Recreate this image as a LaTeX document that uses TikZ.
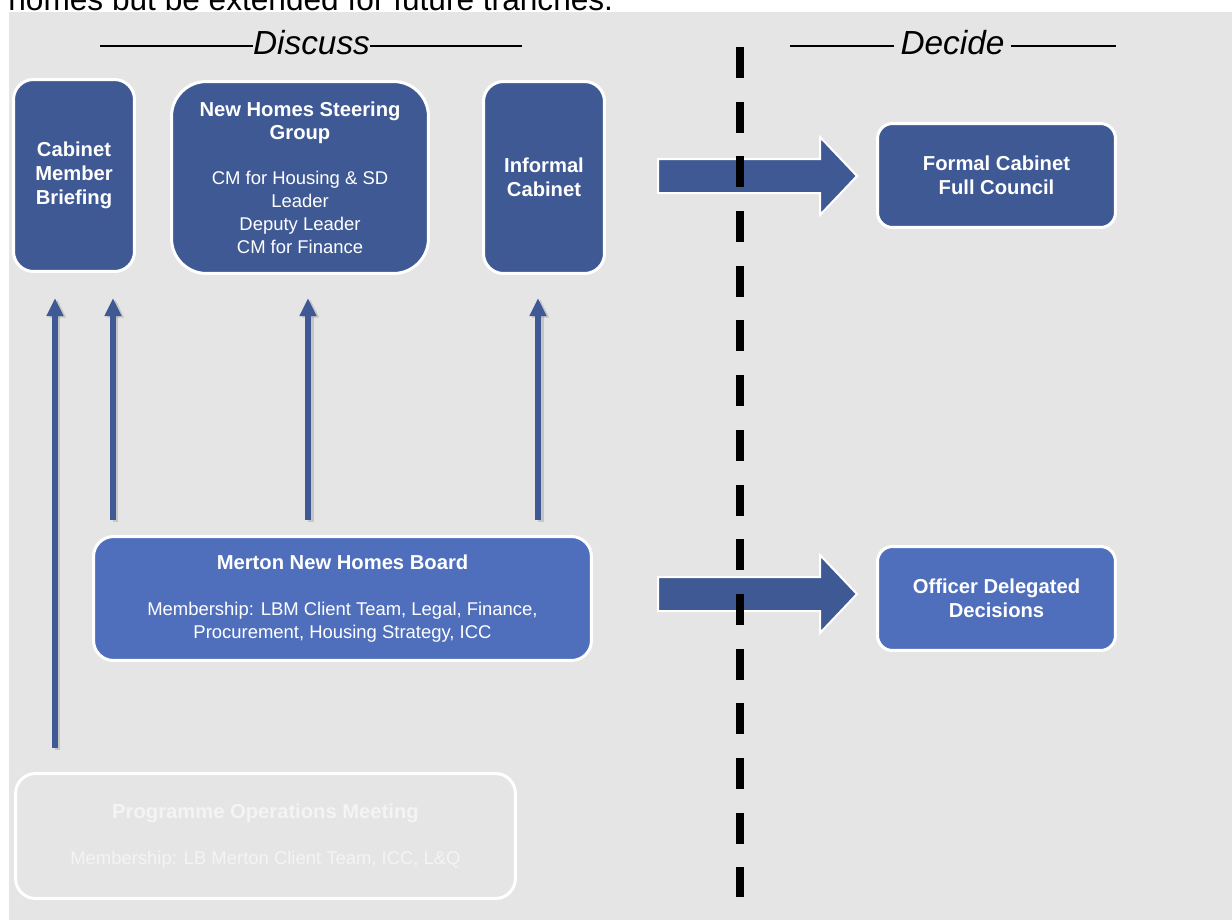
\documentclass[tikz,border=0pt]{standalone}
\usepackage{fontspec}
\setmainfont{Liberation Sans}
\usetikzlibrary{arrows.meta}

\definecolor{nhdark}{RGB}{62,89,147}
\definecolor{nhlight}{RGB}{79,111,189}
\definecolor{nhgrey}{RGB}{229,229,229}
\definecolor{nhfaint}{RGB}{244,244,244}

\newcommand{\boxfont}{\fontsize{11.5}{13.6}\selectfont\bfseries}
\newcommand{\boxhead}[1]{{\boxfont #1}}
\newcommand{\phasefont}{\fontsize{19}{22}\selectfont\itshape}

\tikzset{
  panel/.style={draw=white, line width=0.06cm, fill=nhdark, text=white, align=center,
    inner sep=0pt, rounded corners=0.4cm, font=\fontsize{10.5}{13}\selectfont},
  boardpanel/.style={panel, fill=nhlight},
  opspanel/.style={panel, fill=none, text=nhfaint},
  feed/.style={draw=nhdark, line width=0.12cm, -{Triangle[width=0.32cm,length=0.36cm]}},
  feedshadow/.style={draw=black!35, opacity=0.5, line width=0.12cm,
    -{Triangle[width=0.32cm,length=0.36cm]}, transform canvas={xshift=0.05cm,yshift=-0.03cm}},
  bigarrow/.style={fill=nhdark, draw=white, line width=0.04cm},
  divider/.style={line width=0.16cm, dash pattern=on 0.62cm off 0.474cm},
  headline/.style={line width=0.8pt}
}

\begin{document}
\begin{tikzpicture} [x=0.02cm,y=-0.02cm]

\useasboundingbox (0,0) rectangle (1232,920);
\clip (0,0) rectangle (1232,920);
\fill[white] (0,0) rectangle (1232,920);

% text cut off above the picture
\node[anchor=base west, inner sep=0pt, font=\fontsize{18}{21}\selectfont] (CAP) at (8,10) {homes but be extended for future tranches.};
\fill[nhgrey] (9,12) rectangle (1232,920);

% phase headings
\node[inner sep=0pt, font=\phasefont] (DIS) at (311.5,43) {Discuss};
\node[inner sep=0.12cm, font=\phasefont] (DEC) at (952.5,43) {Decide};
\coordinate (L1) at (100,46);
\coordinate (L2) at (522,46);
\coordinate (L3) at (790,46);
\coordinate (L4) at (1116,46);
\draw[headline] (L1) -- (L1 -| DIS.west);
\draw[headline] (L2 -| DIS.east) -- (L2);
\draw[headline] (L3) -- (L3 -| DEC.west);
\draw[headline] (L4 -| DEC.east) -- (L4);

% discuss
\node[panel, font=\boxfont, minimum width=2.42cm, minimum height=3.84cm] (CMB) at (74,175.5) {Cabinet\\Member\\Briefing};
\node[panel, minimum width=5.14cm, minimum height=3.84cm, rounded corners=0.7cm] (NHSG) at (300,177.5)
  {\boxhead{New Homes Steering}\\\boxhead{Group}\\[13pt]CM for Housing \& SD\\Leader\\Deputy Leader\\CM for Finance};
\node[panel, font=\boxfont, minimum width=2.42cm, minimum height=3.84cm] (INFC) at (544,177.5) {Informal\\Cabinet};
\node[boardpanel, minimum width=9.96cm, minimum height=2.48cm] (MNHB) at (342.5,598.5)
  {\boxhead{Merton New Homes Board}\\[13.6pt]Membership: LBM Client Team, Legal, Finance,\\Procurement, Housing Strategy, ICC};
\node[opspanel, minimum width=10cm, minimum height=2.5cm] (POM) at (265.5,836)
  {\boxhead{Programme Operations Meeting}\\[13.6pt]Membership: LB Merton Client Team, ICC, L\&Q};

% decide
\node[panel, font=\boxfont, minimum width=4.76cm, minimum height=2.08cm, rounded corners=0.3cm] (FCFC) at (996.5,175.5) {Formal Cabinet\\Full Council};
\node[boardpanel, font=\boxfont, minimum width=4.76cm, minimum height=2.08cm, rounded corners=0.3cm] (ODD) at (996.5,598.5) {Officer Delegated\\Decisions};

% upward arrows
\coordinate (F1) at (55,748);   \coordinate (T1) at (55,298);
\coordinate (F2) at (113,520);  \coordinate (T2) at (113,298);
\coordinate (F3) at (308,520);  \coordinate (T3) at (308,298);
\coordinate (F4) at (538,520);  \coordinate (T4) at (538,298);
\draw[feedshadow] (F1) -- (T1);
\draw[feedshadow] (F2) -- (T2);
\draw[feedshadow] (F3) -- (T3);
\draw[feedshadow] (F4) -- (T4);
\draw[feed] (F1) -- (T1);
\draw[feed] (F2) -- (T2);
\draw[feed] (F3) -- (T3);
\draw[feed] (F4) -- (T4);

% block arrows
\coordinate (BA) at (658,176);
\coordinate (BB) at (658,594);
\draw[bigarrow] (BA) ++(0,-17) -- ++(162,0) -- ++(0,-22) -- ++(37,39) -- ++(-37,39) -- ++(0,-22) -- ++(-162,0) -- cycle;
\draw[bigarrow] (BB) ++(0,-17) -- ++(162,0) -- ++(0,-22) -- ++(37,39) -- ++(-37,39) -- ++(0,-22) -- ++(-162,0) -- cycle;

% divider
\coordinate (DT) at (739.5,47);
\coordinate (DB) at (739.5,897);
\draw[divider] (DT) -- (DB);

\end{tikzpicture}
\end{document}
